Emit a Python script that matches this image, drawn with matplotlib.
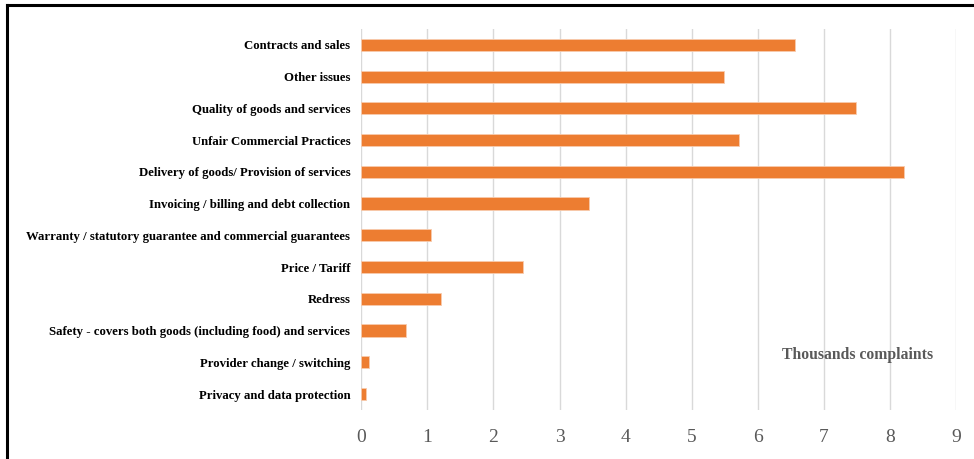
import matplotlib.pyplot as plt
from matplotlib.lines import Line2D

# complaint categories (top to bottom as in the chart)
categories = [
    "Contracts and sales",
    "Other issues",
    "Quality of goods and services",
    "Unfair Commercial Practices",
    "Delivery of goods/ Provision of services",
    "Invoicing / billing and debt collection",
    "Warranty / statutory guarantee and commercial guarantees",
    "Price / Tariff",
    "Redress",
    "Safety - covers both goods (including food) and services",
    "Provider change / switching",
    "Privacy and data protection",
]
# thousands of complaints
values = [6.57, 5.49, 7.48, 5.71, 8.21, 3.45, 1.06, 2.45, 1.21, 0.67, 0.11, 0.07]
xticks = list(range(0, 10))

bar_color = "#ED7D31"
grey = "#595959"

fig = plt.figure(figsize=(9.74, 4.59), dpi=100)
ax = fig.add_axes([0.371, 0.107, 0.6105, 0.830])

ypos = list(range(len(categories)))
ax.barh(ypos, values, height=0.38, color=bar_color, edgecolor="#F8CBAD",
        linewidth=0.6, zorder=3)
ax.set_ylim(len(categories) - 0.5, -0.5)
ax.set_xlim(0, 9)

ax.set_yticks(ypos)
ax.set_yticklabels(categories, family="Liberation Serif", fontweight="bold",
                   fontsize=9.2, color="black")
ax.set_xticks(xticks)
ax.set_xticklabels([str(t) for t in xticks], family="Liberation Serif",
                   fontsize=14, color=grey)
ax.tick_params(axis="y", length=0, pad=8)
ax.tick_params(axis="x", length=0, pad=14)

ax.grid(axis="x", color="#D9D9D9", linewidth=1, zorder=0)
for s in ax.spines.values():
    s.set_visible(False)

ax.text(0.835, 0.144, "Thousands complaints", transform=ax.transAxes,
        ha="center", va="center", family="Liberation Serif",
        fontweight="bold", fontsize=11.3, color=grey)

# frame lines around the figure (top and left)
fig.add_artist(Line2D([0.0072, 1.0], [0.989, 0.989], color="black",
                      linewidth=2.2, transform=fig.transFigure))
fig.add_artist(Line2D([0.0072, 0.0072], [0.0, 0.989], color="black",
                      linewidth=2.2, transform=fig.transFigure))

plt.savefig("out.png", dpi=100)
